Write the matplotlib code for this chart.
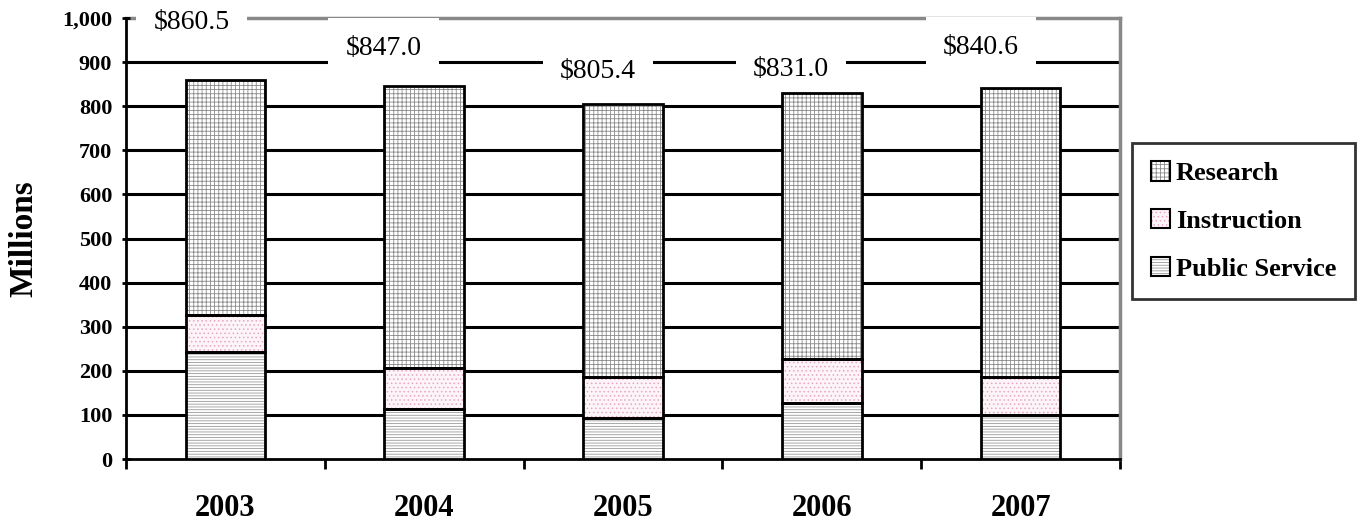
import matplotlib.pyplot as plt
from matplotlib.patches import Patch

plt.rcParams['font.family'] = ['Liberation Serif', 'DejaVu Serif']
plt.rcParams['hatch.linewidth'] = 0.6

years = ['2003', '2004', '2005', '2006', '2007']
public_service = [243, 113, 93, 128, 100]
instruction = [83, 94, 92, 99, 85]
totals = [860.5, 847.0, 805.4, 831.0, 840.6]
research = [t - p - i for t, p, i in zip(totals, public_service, instruction)]
total_labels = ['$860.5', '$847.0', '$805.4', '$831.0', '$840.6']

# where the total labels sit (offset from bar, height)
lab_dx = [-0.17, -0.205, -0.125, -0.155, -0.2]
lab_y = [991, 932, 878, 884, 934]

fig = plt.figure(figsize=(13.64, 5.2), dpi=100)
ax = fig.add_axes([0.0924, 0.1173, 0.7287, 0.848])

x = list(range(len(years)))
w = 0.4
bottom2 = [p + i for p, i in zip(public_service, instruction)]

ps_style = dict(facecolor='white', edgecolor='#999999', hatch='------', lw=0)
in_style = dict(facecolor='#fdf4f8', edgecolor='#e6a6c6', hatch='....', lw=0)
re_style = dict(facecolor='white', edgecolor='#8a8a8a', hatch='++++', lw=0)

ax.bar(x, public_service, w, zorder=3, **ps_style)
ax.bar(x, instruction, w, bottom=public_service, zorder=3, **in_style)
ax.bar(x, research, w, bottom=bottom2, zorder=3, **re_style)
# black outlines
ax.bar(x, public_service, w, fill=False, edgecolor='black', lw=2, zorder=4)
ax.bar(x, instruction, w, bottom=public_service, fill=False, edgecolor='black', lw=2, zorder=4)
ax.bar(x, research, w, bottom=bottom2, fill=False, edgecolor='black', lw=2, zorder=4)

for i in x:
    ax.text(i + lab_dx[i], lab_y[i], total_labels[i], ha='center', va='center',
            fontsize=20, bbox=dict(boxstyle='square,pad=0.62', fc='white', ec='none'),
            zorder=2, clip_on=False)

ax.set_xlim(-0.5, 4.5)
ax.set_ylim(0, 1000)
ax.set_yticks(range(0, 1001, 100))
ax.set_yticklabels(['0', '100', '200', '300', '400', '500', '600', '700', '800', '900', '1,000'],
                   fontsize=16, fontweight='bold')
ax.set_xticks(x)
ax.set_xticklabels(years, fontsize=22, fontweight='bold')
ax.tick_params(axis='x', length=0, pad=25)
ax.set_xticks([-0.5, 0.5, 1.5, 2.5, 3.5, 4.5], minor=True)
ax.tick_params(axis='x', which='minor', length=7, width=2, direction='out')
ax.tick_params(axis='y', length=6, width=2, direction='inout', pad=7)

for yv in range(100, 1000, 100):
    ax.axhline(yv, color='black', lw=2.2, zorder=1)

ax.spines['left'].set_linewidth(2)
ax.spines['bottom'].set_linewidth(2)
ax.spines['top'].set_color('#888888')
ax.spines['right'].set_color('#888888')
ax.spines['top'].set_linewidth(2.5)
ax.spines['right'].set_linewidth(2.5)
ax.spines['top'].set_zorder(1)

ax.set_ylabel('Millions', fontsize=24, fontweight='bold', labelpad=16)

outline = dict(fill=False, edgecolor='black', lw=1.5)
handles = [
    (Patch(**re_style), Patch(**outline)),
    (Patch(**in_style), Patch(**outline)),
    (Patch(**ps_style), Patch(**outline)),
]
leg = fig.legend(handles=handles, labels=['Research', 'Instruction', 'Public Service'],
                 loc='upper left', bbox_to_anchor=(0.83, 0.725),
                 prop={'weight': 'bold', 'size': 19}, frameon=True, fancybox=False,
                 edgecolor='black', handlelength=0.75, handleheight=0.75, handletextpad=0.2,
                 labelspacing=0.9, borderpad=0.7, borderaxespad=0)
leg.get_frame().set_linewidth(2)

fig.savefig('out.png', dpi=100)
